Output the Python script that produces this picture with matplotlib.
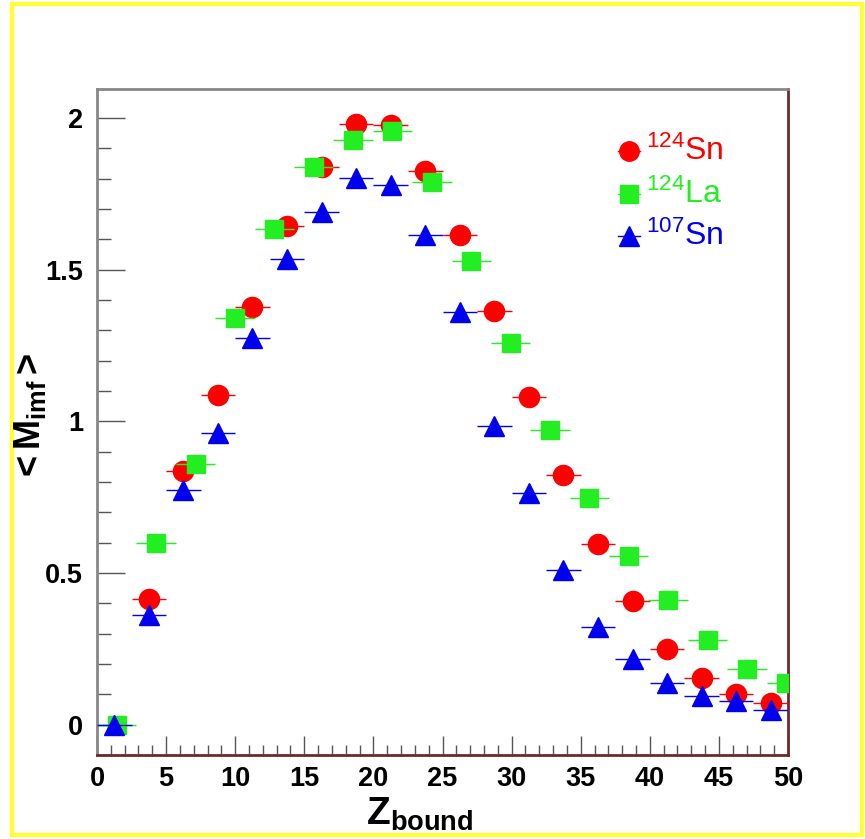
import matplotlib
matplotlib.use("Agg")
import matplotlib.pyplot as plt
from matplotlib.ticker import MultipleLocator
from matplotlib.patches import Rectangle

plt.rcParams['font.family'] = ['Liberation Sans', 'DejaVu Sans']
plt.rcParams['mathtext.fontset'] = 'custom'
plt.rcParams['mathtext.rm'] = 'Liberation Sans'
plt.rcParams['mathtext.bf'] = 'Liberation Sans:bold'
plt.rcParams['mathtext.it'] = 'Liberation Sans:italic'

# ---------------- data ----------------
x_sn124 = [3.75, 6.25, 8.75, 11.25, 13.75, 16.25, 18.75, 21.25, 23.75, 26.25,
           28.75, 31.25, 33.75, 36.25, 38.75, 41.25, 43.75, 46.25, 48.75]
y_sn124 = [0.416, 0.835, 1.086, 1.376, 1.644, 1.838, 1.982, 1.978, 1.825, 1.614,
           1.363, 1.080, 0.823, 0.597, 0.408, 0.249, 0.155, 0.101, 0.072]

x_la124 = [1.43, 4.28, 7.13, 9.98, 12.83, 15.68, 18.53, 21.38, 24.23, 27.08,
           29.93, 32.78, 35.63, 38.48, 41.33, 44.18, 47.03, 49.88]
y_la124 = [0.0, 0.600, 0.860, 1.340, 1.633, 1.840, 1.927, 1.957, 1.790, 1.530,
           1.260, 0.970, 0.749, 0.555, 0.412, 0.280, 0.185, 0.139]

x_sn107 = [1.25, 3.75, 6.25, 8.75, 11.25, 13.75, 16.25, 18.75, 21.25, 23.75,
           26.25, 28.75, 31.25, 33.75, 36.25, 38.75, 41.25, 43.75, 46.25, 48.75]
y_sn107 = [0.0, 0.362, 0.775, 0.962, 1.275, 1.535, 1.690, 1.803, 1.779, 1.614,
           1.362, 0.985, 0.764, 0.510, 0.322, 0.216, 0.138, 0.093, 0.079, 0.047]

halfbin_sn = 1.25
halfbin_la = 1.425

labels = [r'$^{124}$Sn', r'$^{124}$La', r'$^{107}$Sn']
colors = ['#ff0000', '#22ee22', '#0000ee']

# ---------------- figure ----------------
W, H = 865, 839
fig = plt.figure(figsize=(W / 100, H / 100), dpi=100)
ax = fig.add_axes([97 / W, 1 - 755 / H, 691 / W, 666 / H])

ax.errorbar(x_sn124, y_sn124, xerr=halfbin_sn, fmt='o', ms=14.5, color=colors[0],
            mec=colors[0], elinewidth=1.0, capsize=0, zorder=3)
ax.errorbar(x_la124, y_la124, xerr=halfbin_la, fmt='s', ms=13.5, color=colors[1],
            mec=colors[1], elinewidth=1.0, capsize=0, zorder=4)
ax.errorbar(x_sn107, y_sn107, xerr=halfbin_sn, fmt='^', ms=14.5, color=colors[2],
            mec=colors[2], elinewidth=1.0, capsize=0, zorder=5)

ax.set_xlim(0, 50)
ax.set_ylim(-0.1, 2.096)

ax.xaxis.set_major_locator(MultipleLocator(5))
ax.xaxis.set_minor_locator(MultipleLocator(1))
ax.yaxis.set_major_locator(MultipleLocator(0.5))
ax.yaxis.set_minor_locator(MultipleLocator(0.1))
ax.yaxis.set_major_formatter(matplotlib.ticker.FuncFormatter(
    lambda v, p: ('%g' % v)))

ax.tick_params(axis='x', which='major', direction='in', length=14, width=1,
               color='#555555', top=False, labelsize=19.5, pad=8)
ax.tick_params(axis='x', which='minor', direction='in', length=7, width=1,
               color='#555555', top=False)
ax.tick_params(axis='y', which='major', direction='in', length=20, width=1,
               color='#555555', right=False, labelsize=19.5, pad=10)
ax.tick_params(axis='y', which='minor', direction='in', length=10, width=1,
               color='#555555', right=False)
for lab in ax.get_xticklabels() + ax.get_yticklabels():
    lab.set_fontweight('bold')

ax.spines['left'].set_color('#888888')
ax.spines['top'].set_color('#888888')
ax.spines['bottom'].set_color('#6e2a2a')
ax.spines['right'].set_color('#6e2a2a')
for s in ax.spines.values():
    s.set_linewidth(2)

# legend (manual, no box)
leg_y = [1.89, 1.75, 1.61]
markers = ['o', 's', '^']
for yy, mk, c, lab in zip(leg_y, markers, colors, labels):
    ax.plot([38.5], [yy], marker=mk, ms=14 if mk != 's' else 13, color=c,
            ls='none', clip_on=False)
    ax.plot([37.7, 39.3], [yy, yy], color=c, lw=1)
    ax.text(39.7, yy, lab, color=c, fontsize=23, va='center', ha='left')

# axis titles
fig.text(420 / W, 1 - 814 / H, r'$\mathbf{Z_{bound}}$', fontsize=28,
         ha='center', va='center')
fig.text(30 / W, 1 - 418 / H, r'$\mathbf{<M_{imf}>}$', fontsize=26,
         ha='center', va='center', rotation=90)

# yellow outer frame
fig.patches.append(Rectangle((12 / W, 4 / H), (862 - 12) / W, (835 - 4) / H,
                             transform=fig.transFigure, fill=False,
                             edgecolor='#ffff33', linewidth=3))

fig.savefig('out.png', dpi=100)
